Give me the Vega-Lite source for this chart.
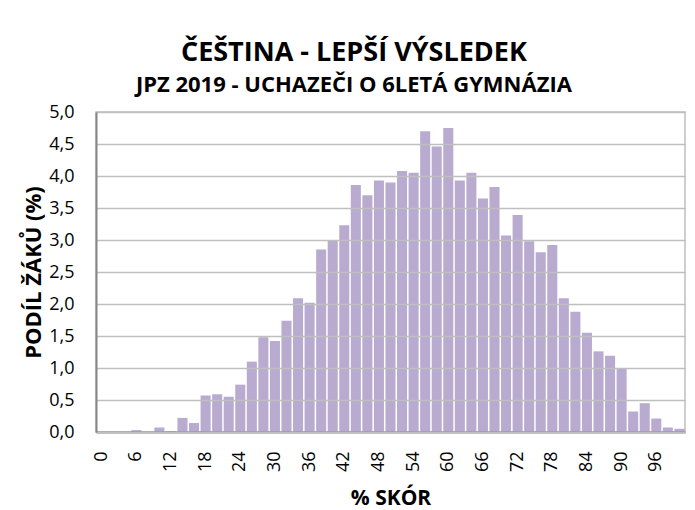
{
  "$schema": "https://vega.github.io/schema/vega-lite/v6.json",
  "width": 589,
  "height": 320,
  "autosize": "none",
  "padding": {"left": 96, "top": 112, "right": 10, "bottom": 78},
  "background": "white",
  "title": {
    "text": "ČEŠTINA - LEPŠÍ VÝSLEDEK",
    "subtitle": "JPZ 2019 - UCHAZEČI O 6LETÁ GYMNÁZIA",
    "anchor": "middle",
    "frame": "bounds",
    "font": "Open Sans",
    "fontSize": 27,
    "fontWeight": "bold",
    "color": "#000000",
    "subtitleFont": "Open Sans",
    "subtitleFontSize": 22,
    "subtitleFontWeight": "bold",
    "subtitleColor": "#000000",
    "subtitlePadding": 8,
    "offset": 6
  },
  "data": {
    "values": [
      {"skor": 0, "podil": 0},
      {"skor": 2, "podil": 0},
      {"skor": 4, "podil": 0},
      {"skor": 6, "podil": 0.03},
      {"skor": 8, "podil": 0},
      {"skor": 10, "podil": 0.07},
      {"skor": 12, "podil": 0.015},
      {"skor": 14, "podil": 0.22},
      {"skor": 16, "podil": 0.14},
      {"skor": 18, "podil": 0.57},
      {"skor": 20, "podil": 0.59},
      {"skor": 22, "podil": 0.55},
      {"skor": 24, "podil": 0.74},
      {"skor": 26, "podil": 1.10},
      {"skor": 28, "podil": 1.48},
      {"skor": 30, "podil": 1.42},
      {"skor": 32, "podil": 1.74},
      {"skor": 34, "podil": 2.09},
      {"skor": 36, "podil": 2.02},
      {"skor": 38, "podil": 2.85},
      {"skor": 40, "podil": 3.00},
      {"skor": 42, "podil": 3.23},
      {"skor": 44, "podil": 3.86},
      {"skor": 46, "podil": 3.70},
      {"skor": 48, "podil": 3.93},
      {"skor": 50, "podil": 3.90},
      {"skor": 52, "podil": 4.08},
      {"skor": 54, "podil": 4.05},
      {"skor": 56, "podil": 4.70},
      {"skor": 58, "podil": 4.46},
      {"skor": 60, "podil": 4.75},
      {"skor": 62, "podil": 3.93},
      {"skor": 64, "podil": 4.05},
      {"skor": 66, "podil": 3.65},
      {"skor": 68, "podil": 3.83},
      {"skor": 70, "podil": 3.07},
      {"skor": 72, "podil": 3.39},
      {"skor": 74, "podil": 2.98},
      {"skor": 76, "podil": 2.81},
      {"skor": 78, "podil": 2.92},
      {"skor": 80, "podil": 2.09},
      {"skor": 82, "podil": 1.88},
      {"skor": 84, "podil": 1.55},
      {"skor": 86, "podil": 1.26},
      {"skor": 88, "podil": 1.19},
      {"skor": 90, "podil": 0.99},
      {"skor": 92, "podil": 0.32},
      {"skor": 94, "podil": 0.45},
      {"skor": 96, "podil": 0.21},
      {"skor": 98, "podil": 0.07},
      {"skor": 100, "podil": 0.05}
    ]
  },
  "mark": {"type": "bar", "color": "#9b87bc", "fillOpacity": 0.7},
  "encoding": {
    "x": {
      "field": "skor",
      "type": "ordinal",
      "scale": {"paddingInner": 0.13, "paddingOuter": 0.05},
      "axis": {
        "title": "% SKÓR",
        "values": [0, 6, 12, 18, 24, 30, 36, 42, 48, 54, 60, 66, 72, 78, 84, 90, 96],
        "labelAngle": -90,
        "labelAlign": "right",
        "labelBaseline": "middle",
        "labelFont": "Open Sans",
        "labelFontSize": 18,
        "labelColor": "#000000",
        "labelPadding": 19,
        "ticks": false,
        "domainColor": "#868686",
        "domainWidth": 2,
        "titleFont": "Open Sans",
        "titleFontSize": 21,
        "titleFontWeight": "bold",
        "titleColor": "#000000",
        "titlePadding": 16
      }
    },
    "y": {
      "field": "podil",
      "type": "quantitative",
      "scale": {"domain": [0, 5]},
      "axis": {
        "title": "PODÍL ŽÁKŮ (%)",
        "values": [0, 0.5, 1, 1.5, 2, 2.5, 3, 3.5, 4, 4.5, 5],
        "labelExpr": "replace(format(datum.value, '.1f'), '.', ',')",
        "labelFont": "Open Sans",
        "labelFontSize": 18,
        "labelColor": "#000000",
        "labelPadding": 22,
        "ticks": false,
        "domainColor": "#868686",
        "domainWidth": 2,
        "grid": true,
        "gridColor": "#bfbfbf",
        "gridWidth": 1.5,
        "zindex": 1,
        "titleFont": "Open Sans",
        "titleFontSize": 22,
        "titleFontWeight": "bold",
        "titleColor": "#000000",
        "titlePadding": 3
      }
    }
  },
  "config": {
    "view": {"stroke": "#bfbfbf", "strokeWidth": 1.5}
  }
}
